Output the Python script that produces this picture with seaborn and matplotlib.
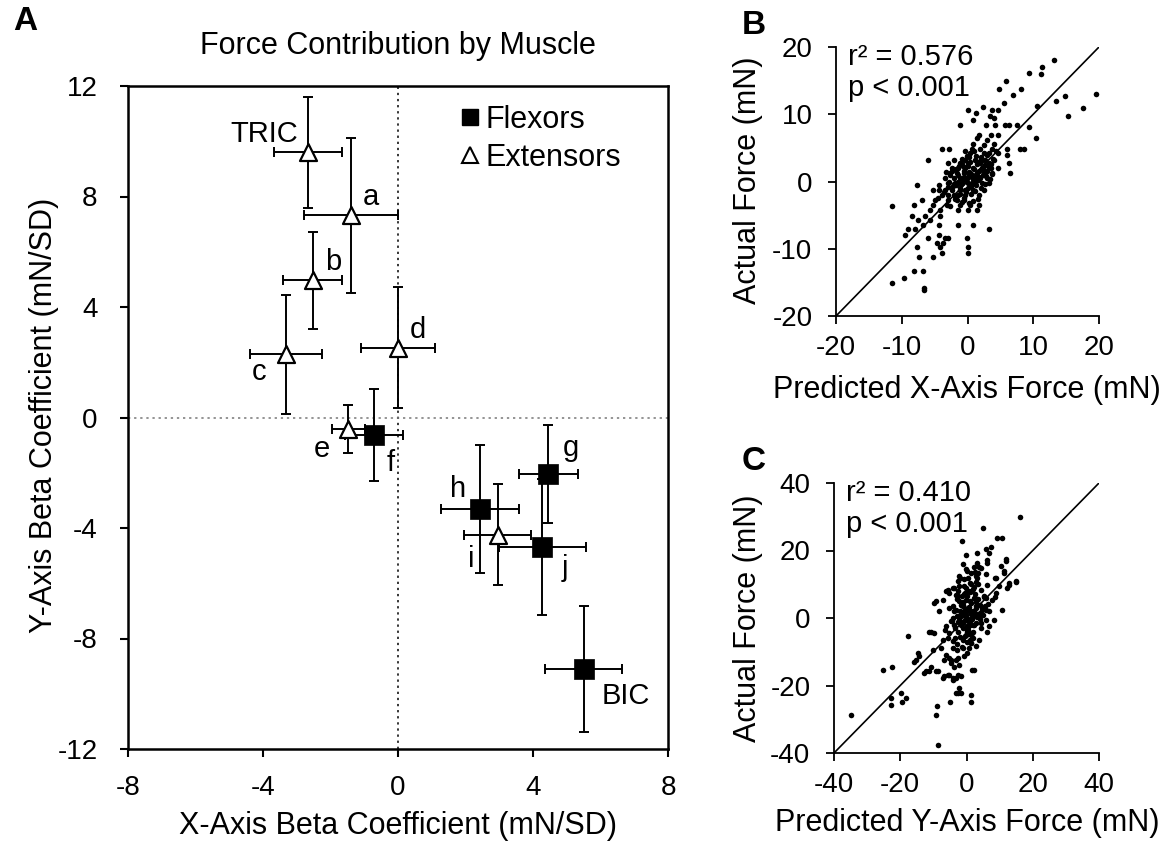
import matplotlib
matplotlib.use("Agg")
import matplotlib.pyplot as plt
from matplotlib.lines import Line2D
import seaborn as sns
import pandas as pd

# ---------------- Panel A data ----------------
muscles = ['TRIC', 'a', 'b', 'c', 'd', 'e', 'f', 'g', 'h', 'i', 'j', 'BIC']
groups = ['Extensors', 'Extensors', 'Extensors', 'Extensors', 'Extensors', 'Extensors',
          'Flexors', 'Flexors', 'Flexors', 'Extensors', 'Flexors', 'Flexors']
x_beta = [-2.67, -1.40, -2.53, -3.33, 0.00, -1.47, -0.71, 4.45, 2.43, 2.95, 4.28, 5.50]
y_beta = [9.60, 7.32, 4.96, 2.29, 2.53, -0.43, -0.64, -2.04, -3.30, -4.24, -4.69, -9.11]
x_err = [1.00, 1.40, 0.88, 1.07, 1.10, 0.50, 0.85, 0.87, 1.15, 1.00, 1.30, 1.13]
y_err = [2.00, 2.80, 1.75, 2.15, 2.20, 0.87, 1.67, 1.78, 2.32, 1.83, 2.45, 2.27]

# ---------------- Panel B data (X-axis force, mN) ----------------
b_pred = [13.2, 11.4, 11.2, 9.4, 5.9, 4.8, 6.9, 8.2, 5.6, 19.6, 14.8, 13.5, 17.6, 15.3, 10.5,
          0.15, 1.3, 2.3, 0.9, 3.8, 3.4, 4.1, 4.6, 9.4, 10.4,
          -1.1, 2.8, 4.2, 5.75, 6.3, 7.5,
          1.7, 3.5, 4.7, 1.4,
          -3.9, -2.8, 0.66, 1.9, 3.7, 6.0, 8.0, 8.6,
          0.4, 2.45, 3.2, 4.7, 6.0,
          -6.0, -2.1, -0.35, 1.2, 2.7, 4.0,
          -2.9, -1.1, 0.15, 1.9, 3.2, 6.3,
          -2.4, -1.4, -0.35, 0.9, 2.2, 3.5, 4.7,
          -2.6, -1.6, -0.6, 0.4, 1.4, 2.45, 3.7, 6.5,
          -3.4, -2.1, -1.1, -0.1, 0.9, 1.9, 2.95,
          -2.9, -1.9, -0.85, 0.15, 1.2, 2.2, 3.2,
          -7.7, -4.4,
          -5.2, -4.4, -3.4, -2.4, -1.1, -0.35, 0.9, 2.45,
          -3.9, -2.9, -2.1, -1.4, -0.35, 1.7,
          -6.9, -4.9, -2.9, -1.6, -0.6,
          -8.2, -5.2, -3.15, -1.1, 0.4, 1.7,
          -5.7, -4.2, -1.4, 0.15, 1.4,
          -8.5, -6.4, -4.2,
          -7.5, -5.7,
          -6.7, -4.4, -1.4, 0.9,
          -9.0, -8.0, 3.2,
          -9.5, -4.4,
          -6.0, -3.4, -2.9, -0.1,
          -4.7, -3.7,
          -7.7, -4.2, 0.15,
          -3.9, 0.15,
          -7.4, -5.2,
          -11.45, -11.55, -9.6, -8.2, -6.7, -6.6, -6.6,
          -0.5, 0.2, 1.0, 1.6, -1.4, 0.6, 2.6, -0.9, 1.3, 2.0, -2.2, 0.0, 3.0, -1.8, 0.8,
          1.9, -0.3, 2.8, -2.6, 1.1, 0.4, 3.6, -1.0, 2.3, -0.6,
          -1.5, -0.8, 0.3, 1.5, 2.1, 2.9, 3.3, 0.7, -0.2, -1.2, -2.0, -0.5, 0.5, 1.3, 2.7,
          3.9, 4.4, 2.5, 1.0, -0.1, -1.3, -2.3, -3.0, -1.9, -2.6, -0.9, 0.2, 1.8, 2.6, 3.4,
          -0.4, 0.8, 3.0, 4.1, 1.6, -3.6, -4.5, -3.3, 0.1, 1.2,
          -0.7, 0.5, 1.7, 2.4, -1.7, -0.2, 1.4, 3.1, -2.8, 0.9, 2.0, -1.2, 0.3, 3.7, -0.5]
b_act = [18.0, 17.1, 16.0, 16.1, 14.9, 13.7, 12.9, 13.7, 11.6, 13.0, 12.7, 12.0, 11.0, 9.8, 11.2,
         10.6, 10.2, 11.1, 9.1, 10.6, 9.7, 9.5, 10.6, 8.1, 6.5,
         8.4, 8.4, 8.4, 8.4, 8.4, 8.4,
         6.9, 6.9, 6.9, 6.4,
         4.9, 4.9, 4.9, 4.9, 4.9, 4.9, 4.9, 4.9,
         4.2, 4.2, 4.2, 4.2, 4.0,
         3.2, 3.2, 3.2, 3.2, 3.2, 3.2,
         2.7, 2.7, 2.7, 2.7, 2.7, 2.7,
         2.0, 2.0, 2.0, 2.0, 2.0, 2.0, 2.0,
         1.24, 1.24, 1.24, 1.24, 1.24, 1.24, 1.24, 1.24,
         0.5, 0.5, 0.5, 0.5, 0.5, 0.5, 0.5,
         -0.24, -0.24, -0.24, -0.24, -0.24, -0.24, -0.24,
         -0.5, -0.5,
         -1.23, -1.23, -1.23, -1.23, -1.23, -1.23, -1.23, -1.23,
         -1.97, -1.97, -1.97, -1.97, -1.97, -1.97,
         -2.7, -2.7, -2.7, -2.7, -2.7,
         -3.45, -3.45, -3.45, -3.45, -3.45, -3.45,
         -4.2, -4.2, -4.2, -4.2, -4.2,
         -5.2, -5.2, -5.2,
         -5.7, -5.7,
         -6.4, -6.4, -6.4, -6.4,
         -7.1, -7.1, -7.1,
         -7.9, -7.9,
         -8.4, -8.4, -8.4, -8.4,
         -9.1, -9.1,
         -9.8, -9.8, -9.8,
         -10.6, -10.6,
         -11.3, -11.3,
         -3.7, -15.1, -14.4, -13.3, -13.3, -15.8, -16.1,
         1.6, 0.9, 1.8, 0.2, 0.0, -0.6, 2.4, 3.4, 3.8, -0.9, -0.7, 2.3, 1.5, 1.9, 0.3,
         3.0, -1.6, 0.8, 0.9, -1.4, 2.9, 2.6, -0.4, 1.0, 0.6,
         1.0, 2.6, 1.4, 2.6, 3.6, 3.9, 2.1, -0.2, 0.2, -1.0, -0.3, -2.4, -1.9, -0.5, -0.3,
         3.3, 4.6, 5.4, 4.5, 3.8, 2.3, 1.6, -0.8, -2.6, -3.6, -3.0, -3.2, 1.6, 1.3, 0.4,
         4.6, 5.6, 6.1, 5.6, -2.6, -1.6, -2.4, 1.4, -0.9, 0.7,
         0.4, 1.1, 0.6, 1.9, -0.5, -1.2, 2.9, 2.3, 0.0, -2.9, 3.1, -1.8, 3.6, 1.1, 2.2]

# ---------------- Panel C data (Y-axis force, mN) ----------------
c_pred = [16.3, 5.0, -1.5, 9.3, 10.8, -0.2, 3.1, 5.8, 7.3, 6.8, 6.3, 3.3, 3.8, 11.8, 10.3, 11.3,
          -0.2, -2.0, -2.2, 8.6, 12.8, 15.0, 12.3, -6.2, -5.2, 8.5, 10.8, -9.2, -9.7, -17.7,
          -11.2, -9.7, -14.7, -14.2, -25.2, -22.4, -15.7, -12.7, -11.2, -9.2, -6.7, -5.2,
          -4.2, -3.2, -1.7, 1.8, -0.7, -3.2, -4.7, -3.7, -19.7, -18.2, -19.4, -22.9, -22.7,
          -34.9, -9.0, -9.2, -8.7, -4.9, -2.7, -2.2, 1.3, 1.5, -6.7, -5.2,
          6.3, 4.3, 11.8,
          -2.2, 1.3, 3.3, 5.8, 8.8, 11.3, 12.8, 14.8,
          -5.7, -4.2, -0.7, 1.3, 4.3, 6.3, 9.8,
          -7.2, -2.7, -0.2, 2.3, 5.3, 7.8, 8.8,
          -8.2, -5.2, -3.2, -1.2, 0.8, 2.8, 4.8, 6.8,
          -4.2, -2.2, -0.2, 1.8, 3.8, 5.8, 8.3,
          -6.2, -3.7, -1.7, 0.3, 2.3, 4.3, 6.8,
          -10.7, -5.2, -2.7, -0.2, 1.8, 3.8, 6.3,
          -7.2, -4.2, -1.2, 1.3,
          -10.2, -7.7, -4.2, 0.8, 2.8,
          -15.2, -6.2, -4.7, -2.7,
          -10.7, -12.2, -8.7, -2.2, 2.3,
          -7.2, -5.7, -4.2, -2.7,
          -3.2, -1.7,
          0.5, -1.0, 1.5, -0.5, 1.0, 2.5, -2.0, 0.0, 3.0, -1.5, 2.0, -3.0, 0.5, -1.0, 4.0,
          1.0, -0.5, 3.5, -3.5, 0.0, 2.0, -2.5, 5.0, -4.5, 1.5, -1.5, 0.5, 2.5,
          -1.0, 1.0, 2.0, -2.0, 0.0, 1.0, -1.0, 3.0, -3.0, 0.5, 2.5, -1.5, 4.0, -4.0, 0.0,
          2.0, -2.0, -1.0, 1.0, 3.5, -3.5, 5.5, -2.5, 1.5, 3.0, -0.5, 0.5, 1.8, -0.8, -5.5,
          -6.5, 4.5, -2.8, 0.2, 6.0, -3.8, 2.2, -1.2,
          -0.3, 0.8, -1.8, 1.6, 2.8, -2.6, 0.4, -1.2, 3.8, -3.2, 1.2, -0.6, 2.2, -2.2, 4.6,
          0.0, 1.9, -1.5, 2.6, -0.8, 3.2, -4.8, 0.6, 5.2, -3.0, 1.4, -0.2, 4.2, 6.6, -1.6,
          2.9, 0.9, -2.4, 3.6, -0.9, 1.7, 5.9, -3.9, 0.3, 2.4]
c_act = [30.0, 26.7, 22.8, 23.8, 23.8, 18.8, 19.3, 20.3, 21.1, 19.3, 17.3, 16.3, 15.1, 17.5,
         15.5, 13.9, 14.6, 11.9, 9.4, 11.8, 10.4, 10.7, 8.9, 7.9, 7.4, 6.2, 2.3, 5.0, 4.5, -5.4,
         -4.0, -4.5, -10.4, -11.4, -15.3, -14.4, -12.9, -16.3, -15.8, -15.8, -17.3, -16.8,
         -18.3, -17.8, -17.3, -15.5, -11.4, -12.4, -13.4, -14.4, -22.3, -23.8, -24.8, -23.8,
         -25.9, -28.8, -26.0, -28.7, -37.6, -25.0, -22.3, -20.8, -22.8, -25.0, -12.4, -11.9,
         16.3, 14.9, 16.8,
         12.4, 13.4, 11.9, 12.9, 11.9, 13.4, 9.9, 10.9,
         8.4, 8.9, 9.4, 7.9, 8.4, 9.9, 9.4,
         5.4, 6.4, 5.4, 5.9, 6.4, 5.4, 7.4,
         2.0, 3.0, 2.5, 3.5, 2.5, 3.5, 2.5, 2.0,
         0.0, 0.5, 1.0, 0.0, 0.5, -0.5, -0.5,
         -2.5, -2.0, -2.0, -2.5, -2.0, -3.0, -2.5,
         -4.0, -4.5, -4.0, -5.0, -4.5, -6.4, -4.0,
         -6.4, -6.9, -6.4, -7.4,
         -9.4, -8.9, -8.9, -8.9, -8.4,
         -12.4, -10.9, -12.4, -11.9,
         -14.4, -15.8, -15.8, -13.9, -15.3,
         -17.8, -16.8, -17.8, -16.8,
         -22.3, -22.3,
         3.0, 1.5, 4.5, -0.5, -1.0, 1.5, -1.0, 6.5, -1.5, 4.0, 8.5, 5.5, -3.5, -3.0, 4.0,
         10.5, 7.5, 10.0, -6.0, -7.0, -6.0, 8.0, 1.0, -1.0, 1.5, -8.5, 12.0, 13.5,
         4.0, 5.0, 2.0, 2.0, 0.0, -2.0, -1.5, 3.0, 0.5, 8.0, 7.0, 6.5, 1.5, 3.5, -4.0,
         -4.0, -5.5, -9.0, -6.5, 5.5, -3.0, 3.5, 11.0, 10.0, 12.5, 2.5, -1.0, 0.8, 0.8, -6.0,
         -3.5, -1.5, -9.5, -10.5, 6.0, 9.0, 15.0, 16.0,
         1.8, 3.2, 0.6, -0.4, 4.8, -1.2, -2.8, 4.6, 1.2, 6.8, 7.6, -5.2, 9.2, -0.6, 3.0,
         -3.6, -2.2, 1.9, 5.8, 11.6, 0.3, -0.8, 2.9, 6.2, -7.8, -7.4, 8.8, -0.2, 4.2, 3.9,
         10.8, -4.6, 5.1, 13.2, 7.1, -5.8, 2.4, 2.1, 14.0, 1.0]

ticks_ay = [-12, -8, -4, 0, 4, 8, 12]
ticks_ax = [-8, -4, 0, 4, 8]
ticks_b = [-20, -10, 0, 10, 20]
ticks_c = [-40, -20, 0, 20, 40]

# ---------------- style ----------------
sns.set_theme(style="ticks")
plt.rcParams['font.family'] = ['Liberation Sans', 'DejaVu Sans']
plt.rcParams['axes.unicode_minus'] = False
plt.rcParams['axes.edgecolor'] = 'black'
plt.rcParams['xtick.color'] = 'black'
plt.rcParams['ytick.color'] = 'black'
plt.rcParams['text.color'] = 'black'

W, H = 1173, 843
fig = plt.figure(figsize=(W / 100, H / 100), dpi=100)


def px_axes(l, r, t, b):
    return fig.add_axes([l / W, 1 - b / H, (r - l) / W, (b - t) / H])


TICK_FS = 20
LAB_FS = 22

# ---------------- Panel A ----------------
axA = px_axes(128, 668, 86, 749)
dfA = pd.DataFrame({'muscle': muscles, 'group': groups, 'x': x_beta, 'y': y_beta,
                    'xe': x_err, 'ye': y_err})
axA.axvline(0, color='black', ls=(0, (1.5, 2.5)), lw=1.1, zorder=1)
axA.axhline(0, color='#777777', ls=(0, (1.5, 2.5)), lw=1.1, zorder=1)
axA.errorbar(dfA['x'], dfA['y'], xerr=dfA['xe'], yerr=dfA['ye'], fmt='none',
             ecolor='black', elinewidth=1.4, capsize=3.5, capthick=1.4, zorder=2)
sns.scatterplot(data=dfA[dfA['group'] == 'Extensors'], x='x', y='y', ax=axA,
                marker='^', s=150, color='white', edgecolor='black', linewidth=1.6,
                zorder=3, legend=False)
sns.scatterplot(data=dfA[dfA['group'] == 'Flexors'], x='x', y='y', ax=axA,
                marker='s', s=190, color='black', edgecolor='black', linewidth=0.5,
                zorder=3, legend=False)

label_off = {'TRIC': (-10, 10, 'right'), 'a': (12, 10, 'left'), 'b': (12, 10, 'left'),
             'c': (-34, -26, 'left'), 'd': (12, 10, 'left'), 'e': (-35, -28, 'left'),
             'f': (13, -36, 'left'), 'g': (15, 18, 'left'), 'h': (-30, 12, 'left'),
             'i': (-30, -32, 'left'), 'j': (19, -29, 'left'), 'BIC': (18, -35, 'left')}
for m, xv, yv in zip(muscles, x_beta, y_beta):
    dx, dy, ha = label_off[m]
    axA.annotate(m, (xv, yv), xytext=(dx, dy), textcoords='offset pixels',
                 ha=ha, va='baseline', fontsize=21)

axA.set_xlim(-8, 8)
axA.set_ylim(-12, 12)
axA.set_xticks(ticks_ax)
axA.set_yticks(ticks_ay)
axA.set_xlabel('')
axA.set_ylabel('')
for s in axA.spines.values():
    s.set_linewidth(1.8)
    s.set_color('black')
axA.tick_params(direction='out', length=6, width=1.5, labelsize=TICK_FS)
axA.tick_params(axis='x', pad=13)
axA.tick_params(axis='y', pad=16)

handles = [Line2D([], [], marker='s', ls='', color='black', ms=12, label='Flexors'),
           Line2D([], [], marker='^', ls='', mfc='white', mec='black', mew=1.5, ms=12,
                  label='Extensors')]
axA.legend(handles=handles, loc='upper left', bbox_to_anchor=(0.611, 0.972),
           frameon=False, fontsize=22, handlelength=0.8, handletextpad=0.1,
           labelspacing=0.28, borderpad=0, borderaxespad=0)

fig.text(398 / W, 1 - 46 / H, 'Force Contribution by Muscle', ha='center', va='center',
         fontsize=22)
fig.text(44 / W, 1 - 415 / H, 'Y-Axis Beta Coefficient (mN/SD)', ha='center', va='center',
         rotation=90, fontsize=LAB_FS)
fig.text(398 / W, 1 - 826 / H, 'X-Axis Beta Coefficient (mN/SD)', ha='center', va='center',
         fontsize=LAB_FS)
fig.text(25 / W, 1 - 22 / H, 'A', ha='center', va='center', fontsize=24, fontweight='bold')

# ---------------- Panel B ----------------
axB = px_axes(836, 1099, 47, 316)
dfB = pd.DataFrame({'pred': b_pred, 'act': b_act})
sns.scatterplot(data=dfB, x='pred', y='act', ax=axB, color='black', s=16, linewidth=0,
                zorder=3)
axB.axline((0, 0), slope=1, color='black', lw=1.2, zorder=2)
axB.set_xlim(-20, 20)
axB.set_ylim(-20, 20)
axB.set_xticks(ticks_b)
axB.set_yticks(ticks_b)
axB.set_xlabel('')
axB.set_ylabel('')
sns.despine(ax=axB)
for s in ['left', 'bottom']:
    axB.spines[s].set_linewidth(1.3)
axB.tick_params(direction='out', length=6, width=1.3, labelsize=TICK_FS)
axB.tick_params(axis='x', pad=8)
axB.tick_params(axis='y', pad=11)
axB.text(0.045, 1.015, 'r\u00b2 = 0.576\np < 0.001', transform=axB.transAxes, ha='left',
         va='top', fontsize=21, linespacing=1.15)
fig.text(773 / W, 1 - 390 / H, 'Predicted X-Axis Force (mN)', ha='left', va='center',
         fontsize=LAB_FS)
fig.text(748 / W, 1 - 180 / H, 'Actual Force (mN)', ha='center', va='center',
         rotation=90, fontsize=LAB_FS)
fig.text(754 / W, 1 - 25 / H, 'B', ha='center', va='center', fontsize=24, fontweight='bold')

# ---------------- Panel C ----------------
axC = px_axes(834, 1099, 483, 753)
dfC = pd.DataFrame({'pred': c_pred, 'act': c_act})
sns.scatterplot(data=dfC, x='pred', y='act', ax=axC, color='black', s=16, linewidth=0,
                zorder=3)
axC.axline((0, 0), slope=1, color='black', lw=1.2, zorder=2)
axC.set_xlim(-40, 40)
axC.set_ylim(-40, 40)
axC.set_xticks(ticks_c)
axC.set_yticks(ticks_c)
axC.set_xlabel('')
axC.set_ylabel('')
sns.despine(ax=axC)
for s in ['left', 'bottom']:
    axC.spines[s].set_linewidth(1.3)
axC.tick_params(direction='out', length=6, width=1.3, labelsize=TICK_FS)
axC.tick_params(axis='x', pad=8)
axC.tick_params(axis='y', pad=11)
axC.text(0.045, 1.015, 'r\u00b2 = 0.410\np < 0.001', transform=axC.transAxes, ha='left',
         va='top', fontsize=21, linespacing=1.15)
fig.text(775 / W, 1 - 823 / H, 'Predicted Y-Axis Force (mN)', ha='left', va='center',
         fontsize=LAB_FS)
fig.text(748 / W, 1 - 618 / H, 'Actual Force (mN)', ha='center', va='center',
         rotation=90, fontsize=LAB_FS)
fig.text(754 / W, 1 - 461 / H, 'C', ha='center', va='center', fontsize=24, fontweight='bold')

fig.savefig('out.png', dpi=100)
